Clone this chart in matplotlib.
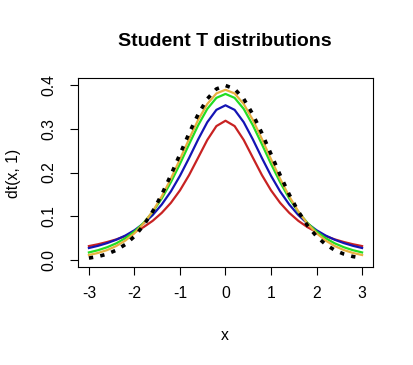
import matplotlib.pyplot as plt

# x grid and density values
x = [-3.0, -2.8, -2.6, -2.4, -2.2, -2.0, -1.8, -1.6, -1.4, -1.2, -1.0,
     -0.8, -0.6, -0.4, -0.2, 0.0, 0.2, 0.4, 0.6, 0.8, 1.0,
     1.2, 1.4, 1.6, 1.8, 2.0, 2.2, 2.4, 2.6, 2.8, 3.0]

t_df1 = [0.0318, 0.0360, 0.0411, 0.0471, 0.0545, 0.0637, 0.0751, 0.0895, 0.1078, 0.1306, 0.1592,
         0.1941, 0.2341, 0.2744, 0.3061, 0.3183, 0.3061, 0.2744, 0.2341, 0.1941, 0.1592,
         0.1306, 0.1078, 0.0895, 0.0751, 0.0637, 0.0545, 0.0471, 0.0411, 0.0360, 0.0318]

t_df2 = [0.0274, 0.0324, 0.0386, 0.0463, 0.0559, 0.0680, 0.0834, 0.1027, 0.1269, 0.1567, 0.1925,
         0.2331, 0.2758, 0.3150, 0.3432, 0.3536, 0.3432, 0.3150, 0.2758, 0.2331, 0.1925,
         0.1567, 0.1269, 0.1027, 0.0834, 0.0680, 0.0559, 0.0463, 0.0386, 0.0324, 0.0274]

t_df5 = [0.0173, 0.0224, 0.0292, 0.0381, 0.0498, 0.0651, 0.0848, 0.1098, 0.1407, 0.1777, 0.2197,
         0.2645, 0.3081, 0.3454, 0.3706, 0.3796, 0.3706, 0.3454, 0.3081, 0.2645, 0.2197,
         0.1777, 0.1407, 0.1098, 0.0848, 0.0651, 0.0498, 0.0381, 0.0292, 0.0224, 0.0173]

t_df10 = [0.0114, 0.0161, 0.0227, 0.0319, 0.0444, 0.0611, 0.0831, 0.1111, 0.1454, 0.1857, 0.2304,
          0.2766, 0.3203, 0.3566, 0.3807, 0.3891, 0.3807, 0.3566, 0.3203, 0.2766, 0.2304,
          0.1857, 0.1454, 0.1111, 0.0831, 0.0611, 0.0444, 0.0319, 0.0227, 0.0161, 0.0114]

normal = [0.0044, 0.0079, 0.0136, 0.0224, 0.0355, 0.0540, 0.0790, 0.1109, 0.1497, 0.1942, 0.2420,
          0.2897, 0.3332, 0.3683, 0.3910, 0.3989, 0.3910, 0.3683, 0.3332, 0.2897, 0.2420,
          0.1942, 0.1497, 0.1109, 0.0790, 0.0540, 0.0355, 0.0224, 0.0136, 0.0079, 0.0044]

x_ticks = [-3, -2, -1, 0, 1, 2, 3]
y_ticks = [0.0, 0.1, 0.2, 0.3, 0.4]

plt.rcParams["font.family"] = ["Liberation Sans", "DejaVu Sans"]

fig = plt.figure(figsize=(4.14, 3.65), dpi=100)
ax = fig.add_axes([78 / 414, (365 - 267) / 365, 295 / 414, 189 / 365])

lw = 1.6
ax.plot(x, t_df1, color="#C82222", lw=lw)
ax.plot(x, t_df2, color="#1414B4", lw=lw)
ax.plot(x, t_df5, color="#22DD22", lw=lw)
ax.plot(x, t_df10, color="#E8B040", lw=lw)
ax.plot(x, normal, color="black", lw=2.6, linestyle=(0, (1.2, 2.0)))

ax.set_xlim(-3.24, 3.24)
ax.set_ylim(-0.016, 0.416)
ax.set_xticks(x_ticks)
ax.set_xticklabels([str(t) for t in x_ticks])
ax.set_yticks(y_ticks)
ax.set_yticklabels([f"{t:.1f}" for t in y_ticks], rotation=90, va="center")
ax.tick_params(labelsize=11.3, length=5.8, width=0.8)
ax.tick_params(axis="x", pad=8)
ax.tick_params(axis="y", pad=9.5)

for s in ax.spines.values():
    s.set_linewidth(0.8)

fig.text(225 / 414, 1 - 335 / 365, "x", ha="center", va="center", fontsize=11.3)
fig.text(14 / 414, 1 - 173 / 365, "dt(x, 1)", ha="center", va="center",
         fontsize=11.3, rotation=90)
fig.text(225 / 414, 1 - 42 / 365, "Student T distributions", ha="center", va="center",
         fontsize=14, fontweight="bold")

fig.savefig("out.png", dpi=100)
